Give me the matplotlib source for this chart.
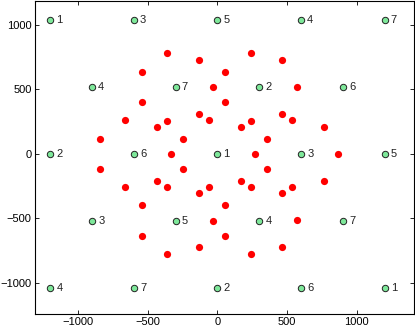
import numpy as np
import matplotlib
matplotlib.use('Agg')
import matplotlib.pyplot as plt

plt.rcParams['font.family'] = ['Liberation Sans', 'DejaVu Sans']

# cell centres (hexagonal layout) and their reuse labels
cell_x = [-1200, -600, 0, 600, 1200,
          -900, -300, 300, 900,
          -1200, -600, 0, 600, 1200,
          -900, -300, 300, 900,
          -1200, -600, 0, 600, 1200]
cell_y = [1039, 1039, 1039, 1039, 1039,
          520, 520, 520, 520,
          0, 0, 0, 0, 0,
          -520, -520, -520, -520,
          -1039, -1039, -1039, -1039, -1039]
cell_labels = ['1', '3', '5', '4', '7',
               '4', '7', '2', '6',
               '2', '6', '1', '3', '5',
               '3', '5', '4', '7',
               '4', '7', '2', '6', '1']

# user positions
user_x = [-363, -134, -543, -31, -543, -661, -361, -433, -134, -62, -842, -244, -333,
          239, 466, 55, 569, 55, 168, 239, 466, 538, 767, 356, 270, 868,
          -842, -244, -661, -433, -361, -134, -62, -543, -31, -543, -134, -361,
          356, 168, 239, 466, 538, 767, 55, 569, 55, 466, 239]
user_y = [780, 728, 635, 519, 402, 263, 257, 211, 309, 263, 118, 118, 1,
          780, 728, 635, 519, 402, 211, 257, 309, 263, 211, 118, 1, 1,
          -115, -115, -260, -208, -255, -306, -260, -399, -519, -635, -725, -780,
          -115, -208, -255, -306, -260, -208, -399, -516, -635, -725, -780]

fig = plt.figure(figsize=(4.15, 3.29), dpi=100)
ax = fig.add_axes([35 / 415, 15 / 329, 379 / 415, 313 / 329])

ax.plot(user_x, user_y, 'o', color='#ff0000', markersize=5.2,
        markeredgewidth=0, linestyle='none')
ax.plot(cell_x, cell_y, 'o', markerfacecolor='#7ee89a', markeredgecolor='#222222',
        markersize=4.6, markeredgewidth=0.7, linestyle='none')

for x, y, lab in zip(cell_x, cell_y, cell_labels):
    ax.annotate(lab, (x, y), xytext=(4.5, 0), textcoords='offset points',
                va='center', ha='left', fontsize=8, color='#222222')

ax.set_xlim(-1308, 1411)
ax.set_ylim(-1243, 1186)
ax.set_xticks([-1000, -500, 0, 500, 1000])
ax.set_yticks([-1000, -500, 0, 500, 1000])
ax.tick_params(direction='in', top=True, right=True, labelsize=8,
               length=3, width=0.6, pad=2.5)
for s in ax.spines.values():
    s.set_linewidth(0.8)

fig.savefig('out.png', dpi=100)
